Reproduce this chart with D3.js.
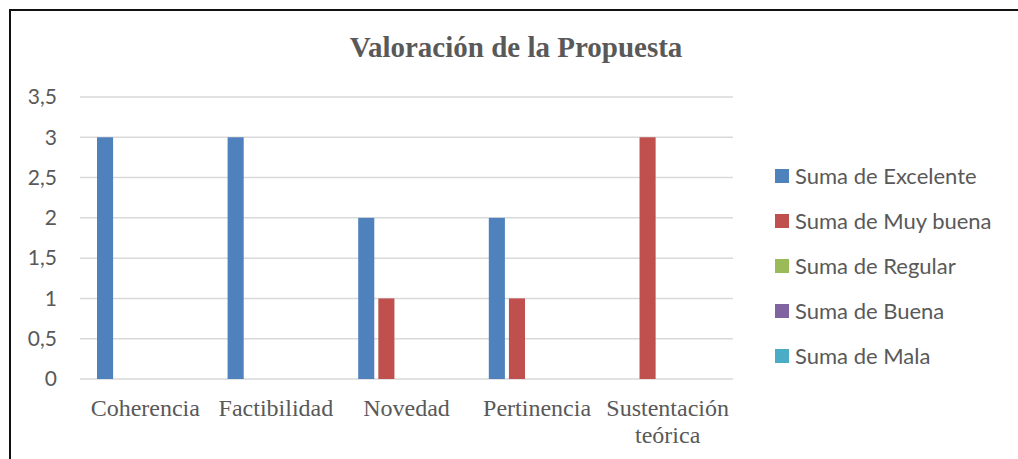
<!DOCTYPE html>
<html>
<head>
<meta charset="utf-8">
<script src="https://cdn.jsdelivr.net/npm/d3@7"></script>
<style>
  body { margin: 0; background: #fff; }
</style>
</head>
<body>
<script>
// data
const categories = ['Coherencia', 'Factibilidad', 'Novedad', 'Pertinencia', 'Sustentación teórica']
const seriesNames = ['Suma de Excelente', 'Suma de Muy buena', 'Suma de Regular', 'Suma de Buena', 'Suma de Mala']
const excelente = [3, 3, 2, 2, 0]
const muyBuena = [0, 0, 1, 1, 3]
const regular = [0, 0, 0, 0, 0]
const buena = [0, 0, 0, 0, 0]
const mala = [0, 0, 0, 0, 0]
const yTicks = [0, 0.5, 1, 1.5, 2, 2.5, 3, 3.5]
const title = 'Valoración de la Propuesta'

const seriesValues = [excelente, muyBuena, regular, buena, mala]
const colors = ['#4F81BD', '#C0504D', '#9BBB59', '#8064A2', '#4BACC6']

const width = 1018
const height = 459
const margin = { top: 97, right: 285, bottom: 80, left: 80 }

const svg = d3.select('body').append('svg')
  .attr('width', width)
  .attr('height', height)

// frame (top + left edges visible)
svg.append('path')
  .attr('d', `M10,${height} L10,10 L${width},10`)
  .attr('fill', 'none')
  .attr('stroke', '#111')
  .attr('stroke-width', 2)

svg.append('text')
  .attr('x', 516)
  .attr('y', 57)
  .attr('text-anchor', 'middle')
  .attr('font-family', '"Liberation Serif", "Times New Roman", serif')
  .attr('font-weight', 'bold')
  .attr('font-size', 29)
  .attr('fill', '#595959')
  .text(title)

const x0 = d3.scaleBand()
  .domain(categories)
  .range([margin.left, width - margin.right])
  .padding(0)

const x1 = d3.scaleBand()
  .domain(d3.range(seriesNames.length))
  .range([17, x0.bandwidth() - 17])
  .paddingInner(0.2)

const y = d3.scaleLinear()
  .domain([0, 3.5])
  .range([height - margin.bottom, margin.top])

const fmt = (d) => String(d).replace('.', ',')

// grid
svg.append('g')
  .selectAll('line')
  .data(yTicks)
  .join('line')
  .attr('x1', margin.left)
  .attr('x2', width - margin.right)
  .attr('y1', (d) => y(d))
  .attr('y2', (d) => y(d))
  .attr('stroke', '#D9D9D9')
  .attr('stroke-width', 1.5)

// y axis labels
svg.append('g')
  .selectAll('text')
  .data(yTicks)
  .join('text')
  .attr('x', 57)
  .attr('y', (d) => y(d))
  .attr('dy', '0.35em')
  .attr('text-anchor', 'end')
  .attr('font-family', 'Lato, "Open Sans", sans-serif')
  .attr('font-size', 21)
  .attr('fill', '#595959')
  .text(fmt)

// bars
const groups = svg.append('g')
  .selectAll('g')
  .data(categories)
  .join('g')
  .attr('transform', (d) => `translate(${x0(d)},0)`)

groups.selectAll('rect')
  .data((c, ci) => seriesValues.map((vals, si) => ({ si, v: vals[ci] })))
  .join('rect')
  .attr('x', (d) => x1(d.si))
  .attr('width', x1.bandwidth())
  .attr('y', (d) => y(d.v))
  .attr('height', (d) => y(0) - y(d.v))
  .attr('fill', (d) => colors[d.si])

// category labels (wrapped)
const catLabels = svg.append('g')
  .selectAll('text')
  .data(categories)
  .join('text')
  .attr('x', (d) => x0(d) + x0.bandwidth() / 2)
  .attr('y', 416)
  .attr('text-anchor', 'middle')
  .attr('font-family', '"Liberation Serif", "Times New Roman", serif')
  .attr('font-size', 24)
  .attr('fill', '#595959')

catLabels.each(function (d) {
  const words = d.split(' ')
  const t = d3.select(this)
  words.forEach((w, i) => {
    t.append('tspan')
      .attr('x', x0(d) + x0.bandwidth() / 2)
      .attr('dy', i === 0 ? 0 : 27)
      .text(w)
  })
})

// legend
const legend = svg.append('g')
  .selectAll('g')
  .data(seriesNames)
  .join('g')
  .attr('transform', (d, i) => `translate(775, ${176 + i * 45})`)

legend.append('rect')
  .attr('x', 0)
  .attr('y', -7)
  .attr('width', 14)
  .attr('height', 14)
  .attr('fill', (d, i) => colors[i])

legend.append('text')
  .attr('x', 20)
  .attr('y', 0)
  .attr('dy', '0.35em')
  .attr('font-family', 'Lato, "Open Sans", sans-serif')
  .attr('font-size', 22)
  .attr('fill', '#595959')
  .text((d) => d)
</script>
</body>
</html>
